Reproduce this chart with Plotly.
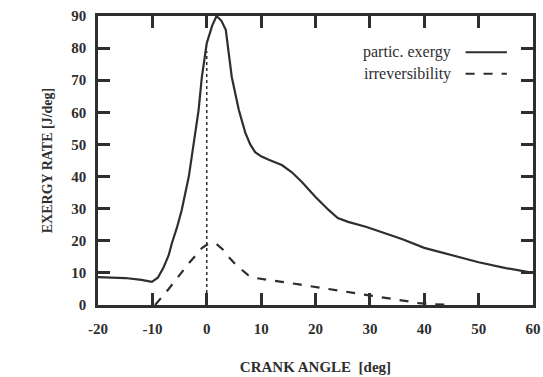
import plotly.graph_objects as go

crank_angle_exergy = [-20, -15, -12, -10.1, -9, -8, -7, -6.4, -5.5, -4.6, -3.3, -2.4, -1.5, -0.9, 0, 1, 1.8, 2.7, 3.5, 4.6, 5.9, 7.1, 8, 8.9, 10, 11.4, 13.8, 15.6, 17.5, 20, 22.4, 24.1, 26, 29.4, 33, 36, 40, 45, 50, 55, 60]
partic_exergy = [8.7, 8.4, 7.8, 7.2, 8.5, 11.5, 15.5, 19.3, 24, 29.6, 40, 50.5, 60.7, 71, 81.5, 87, 90, 88.5, 85.7, 71, 60.7, 53.6, 50, 47.6, 46.3, 45.2, 43.6, 41.4, 38.3, 33.6, 29.6, 27.1, 25.9, 24.3, 22.3, 20.5, 17.8, 15.5, 13.3, 11.5, 10]

crank_angle_irrev = [-9.5, -8, -7, -5.7, -4.5, -3.3, -2, -0.9, 0.4, 1.8, 3, 4, 5.2, 6.4, 7.6, 9, 11, 13.8, 17, 20, 25, 30, 35, 39, 42, 45]
irreversibility = [0, 2.8, 5, 7.8, 10.5, 13, 15.5, 17.7, 19.2, 19, 17.2, 15, 12.8, 10.9, 9.3, 8.4, 7.8, 7.2, 6.4, 5.6, 4.3, 3.0, 1.8, 0.6, 0.2, 0]

tdc_x = [0, 0]
tdc_y = [0, 79]

x_ticks = [-20, -10, 0, 10, 20, 30, 40, 50, 60]
x_tick_text = ["-20", "-10", "0", "10", "20", "30", "40", "50", "60"]
y_ticks = [0, 10, 20, 30, 40, 50, 60, 70, 80, 90]

ink = "#2e2e2e"
font = "Liberation Serif"

fig = go.Figure()
fig.add_trace(go.Scatter(x=crank_angle_exergy, y=partic_exergy, mode="lines",
                         name="partic. exergy", line=dict(color=ink, width=2.2)))
fig.add_trace(go.Scatter(x=crank_angle_irrev, y=irreversibility, mode="lines",
                         name="irreversibility", line=dict(color=ink, width=2.2, dash="dash")))
fig.add_trace(go.Scatter(x=tdc_x, y=tdc_y, mode="lines", showlegend=False,
                         line=dict(color=ink, width=1.5, dash="dot")))

axis_common = dict(showline=True, linecolor=ink, linewidth=2.5, mirror="ticks",
                   ticks="inside", ticklen=12, tickwidth=2.5, tickcolor=ink,
                   showgrid=False, zeroline=False, automargin=False,
                   tickfont=dict(family=font, size=15, color=ink, weight="bold"))

fig.update_layout(
    width=543, height=377,
    margin=dict(l=98, r=10, t=16, b=72),
    paper_bgcolor="white", plot_bgcolor="white",
    showlegend=False,
    xaxis=dict(range=[-20, 60], tickvals=x_ticks, ticktext=x_tick_text, ticklabelstandoff=8,
               title=dict(text="CRANK ANGLE&nbsp;&nbsp;[deg]",
                          font=dict(family=font, size=15, color=ink, weight="bold"), standoff=26),
               **axis_common),
    yaxis=dict(range=[0, 90], tickvals=y_ticks, ticklabelstandoff=6,
               title=dict(text="EXERGY RATE [J/deg]",
                          font=dict(family=font, size=14, color=ink, weight="bold"), standoff=16),
               **axis_common),
)

# legend: text on the left, line sample on the right
legend_items = [("partic. exergy", "solid", 0.875), ("irreversibility", "dash", 0.8)]
for label, dash, yy in legend_items:
    fig.add_annotation(x=0.816, y=yy, xref="paper", yref="paper", text=label, showarrow=False,
                       xanchor="right", yanchor="middle", font=dict(family=font, size=16, color=ink))
    fig.add_shape(type="line", xref="paper", yref="paper", x0=0.845, x1=0.94, y0=yy, y1=yy,
                  line=dict(color=ink, width=2, dash=dash))

fig.write_html("out.html")
